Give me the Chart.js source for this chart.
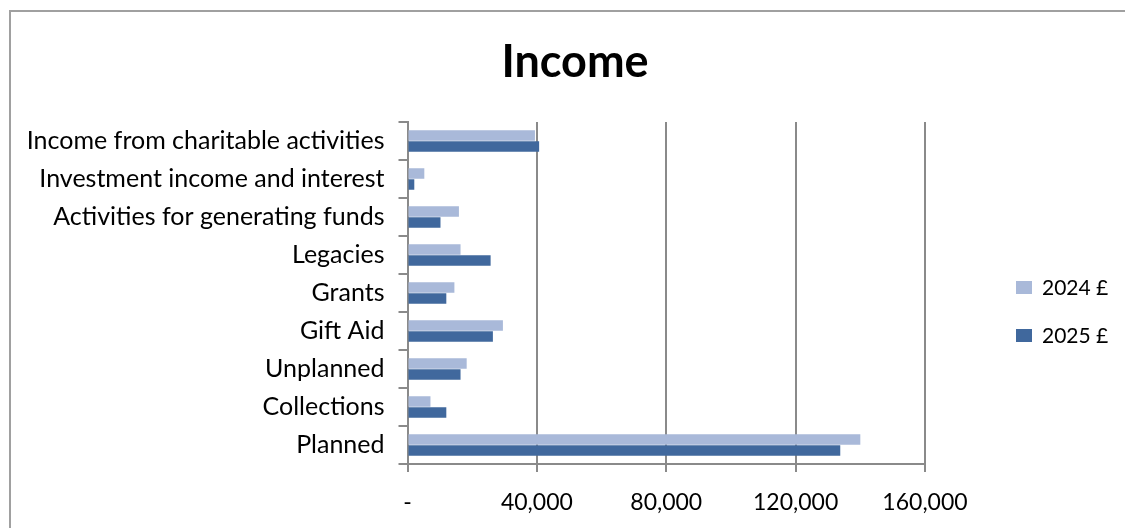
<!DOCTYPE html>
<html>
<head>
<meta charset="utf-8">
<script src="https://cdn.jsdelivr.net/npm/chart.js@4"></script>
<style>
  html, body { margin: 0; padding: 0; background: #fff; }
  #wrap { position: relative; width: 1125px; height: 528px; overflow: hidden; }
  #frame { position: absolute; left: 9px; top: 10px; width: 1200px; height: 600px;
           border-left: 2px solid #a0a0a0; border-top: 2px solid #a0a0a0; }
  canvas { position: absolute; left: 0; top: 0; }
</style>
</head>
<body>
<div id="wrap">
  <div id="frame"></div>
  <canvas id="incomeChart" width="1125" height="528"></canvas>
</div>
<script>
const categories = [
  'Income from charitable activities',
  'Investment income and interest',
  'Activities for generating funds',
  'Legacies',
  'Grants',
  'Gift Aid',
  'Unplanned',
  'Collections',
  'Planned'
];
const income2024 = [39400, 5200, 15900, 16400, 14500, 29500, 18300, 7100, 140000];
const income2025 = [40700, 2100, 10200, 25700, 12000, 26400, 16400, 12000, 133800];
const xTicks = [0, 40000, 80000, 120000, 160000];

const FONT = 'Lato, "Open Sans", sans-serif';

// legend drawn by hand so it sits where the original has it
const sideLegend = {
  id: 'sideLegend',
  afterDraw(chart) {
    const ctx = chart.ctx;
    ctx.save();
    ctx.font = '21px ' + FONT;
    ctx.textBaseline = 'middle';
    chart.data.datasets.forEach((ds, i) => {
      const y = 288 + i * 48;
      ctx.fillStyle = ds.backgroundColor;
      ctx.fillRect(1016, y - 7, 16, 13);
      ctx.fillStyle = '#000';
      ctx.fillText(ds.label, 1042, y);
    });
    ctx.restore();
  }
};

const ctx = document.getElementById('incomeChart').getContext('2d');
new Chart(ctx, {
  type: 'bar',
  data: {
    labels: categories,
    datasets: [
      { label: '2024 £', data: income2024, backgroundColor: '#A9B9D9', borderWidth: 0 },
      { label: '2025 £', data: income2025, backgroundColor: '#40689D', borderWidth: 0 }
    ]
  },
  plugins: [sideLegend],
  options: {
    indexAxis: 'y',
    responsive: false,
    animation: false,
    events: [],
    layout: { padding: { left: 25, right: 0, top: 0, bottom: 0 } },
    datasets: { bar: { categoryPercentage: 0.58, barPercentage: 0.96 } },
    plugins: {
      legend: { display: false },
      tooltip: { enabled: false },
      title: {
        display: true,
        text: 'Income',
        color: '#000',
        font: { family: FONT, size: 45, weight: 'bold' },
        padding: { top: 35, bottom: 33 }
      }
    },
    scales: {
      x: {
        min: 0,
        max: 160000,
        afterBuildTicks: s => { s.ticks = xTicks.map(v => ({ value: v })); },
        afterFit: s => { s.height = 64; },
        border: { color: '#8a8a8a', width: 2 },
        grid: { color: '#8a8a8a', lineWidth: 2, tickLength: 8, drawTicks: true },
        ticks: {
          color: '#000',
          padding: 17,
          maxRotation: 0,
          font: { family: FONT, size: 23 },
          callback: v => v === 0 ? '-' : v.toLocaleString('en-GB')
        }
      },
      y: {
        offset: true,
        afterFit: s => { s.width = 382.5; },
        border: { color: '#8a8a8a', width: 2 },
        grid: { offset: true, drawOnChartArea: false, color: '#8a8a8a', lineWidth: 2, tickLength: 9 },
        ticks: { color: '#000', padding: 14, font: { family: FONT, size: 25 } }
      },
      // empty right-hand axis that keeps room for the legend
      side: {
        type: 'linear',
        position: 'right',
        axis: 'y',
        afterFit: s => { s.width = 200; },
        border: { display: false },
        grid: { display: false, drawTicks: false },
        ticks: { display: false }
      }
    }
  }
});
</script>
</body>
</html>
